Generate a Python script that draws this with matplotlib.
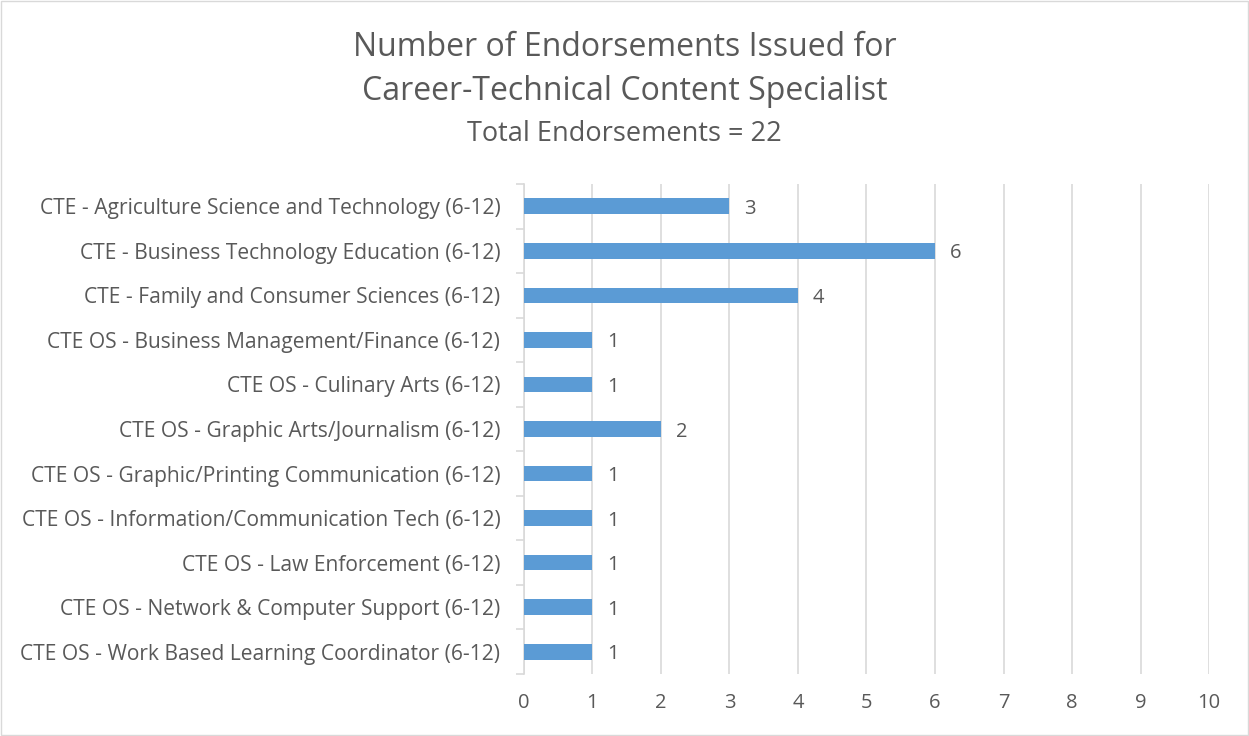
import matplotlib
matplotlib.use("Agg")
from matplotlib import pyplot as plt
from matplotlib.patches import Rectangle

categories = [
    "CTE - Agriculture Science and Technology (6-12)",
    "CTE - Business Technology Education (6-12)",
    "CTE - Family and Consumer Sciences (6-12)",
    "CTE OS - Business Management/Finance (6-12)",
    "CTE OS - Culinary Arts (6-12)",
    "CTE OS - Graphic Arts/Journalism (6-12)",
    "CTE OS - Graphic/Printing Communication (6-12)",
    "CTE OS - Information/Communication Tech (6-12)",
    "CTE OS - Law Enforcement (6-12)",
    "CTE OS - Network & Computer Support (6-12)",
    "CTE OS - Work Based Learning Coordinator (6-12)",
]
counts = [3, 6, 4, 1, 1, 2, 1, 1, 1, 1, 1]
xticks = list(range(0, 11))

text_color = "#595959"
grid_color = "#d9d9d9"
bar_color = "#5b9bd5"

plt.rcParams['font.family'] = ['Open Sans', 'DejaVu Sans']

fig = plt.figure(figsize=(12.49, 7.36), dpi=100)
ax = fig.add_axes([0.4195, 0.0842, 0.5485, 0.6658])

ypos = list(range(len(categories)))
ax.barh(ypos, counts, height=0.35, color=bar_color, zorder=3)
for y, v in zip(ypos, counts):
    ax.text(v + 0.22, y, str(v), va='center_baseline', ha='left', fontsize=14.5, color=text_color)

ax.set_ylim(len(categories) - 0.5, -0.5)
ax.set_xlim(0, 10)
ax.set_xticks(xticks)
ax.set_yticks(ypos)
ax.set_yticklabels(categories)
ax.set_yticks([i - 0.5 for i in range(len(categories) + 1)], minor=True)
ax.xaxis.grid(True, color=grid_color, linewidth=1.2, zorder=0)
ax.tick_params(axis='x', length=0, pad=14, labelsize=14.5, labelcolor=text_color)
ax.tick_params(axis='y', which='major', length=0, pad=17, labelsize=15.1, labelcolor=text_color)
ax.tick_params(axis='y', which='minor', length=6, width=1.2, color=grid_color)
for side in ['top', 'right', 'bottom']:
    ax.spines[side].set_visible(False)
ax.spines['left'].set_color(grid_color)
ax.spines['left'].set_linewidth(1.2)

fig.text(0.5, 0.935, "Number of Endorsements Issued for", ha='center', va='center',
         fontsize=23, color=text_color)
fig.text(0.5, 0.875, "Career-Technical Content Specialist", ha='center', va='center',
         fontsize=23, color=text_color)
fig.text(0.5, 0.818, "Total Endorsements = 22", ha='center', va='center',
         fontsize=19.5, color=text_color)

fig.patches.append(Rectangle((0.0008, 0.0014), 0.9984, 0.9972, transform=fig.transFigure,
                             fill=False, edgecolor=grid_color, linewidth=1))

fig.savefig('out.png', dpi=100)
